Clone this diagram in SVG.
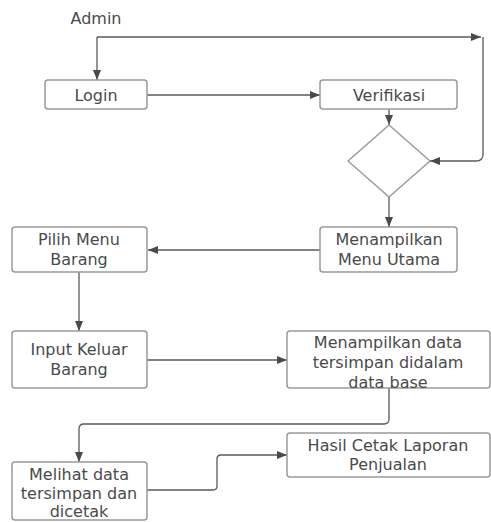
<svg xmlns="http://www.w3.org/2000/svg" width="491" height="522" viewBox="0 0 491 522">
<defs>
<style>
.box{fill:#fff;stroke:#9a9a9a;stroke-width:1.5}
.t{font-family:"DejaVu Sans",sans-serif;font-size:16px;fill:#4a4a4a;text-anchor:middle;dominant-baseline:central}
.c{fill:none;stroke:#5a5a5a;stroke-width:1.3}
</style>
<marker id="a" viewBox="0 0 10 8" refX="10" refY="4" markerWidth="10" markerHeight="8" markerUnits="userSpaceOnUse" orient="auto">
<path d="M0,0 L10,4 L0,8 Z" fill="#4a4a4a"/>
</marker>
</defs>
<rect width="491" height="522" fill="#fff"/>
<g id="connectors">
<path class="c" d="M97,37 V80" marker-end="url(#a)"/>
<path class="c" d="M97,37 H481" marker-end="url(#a)"/>
<path class="c" d="M483,37 V154 Q483,161 476,161 H430" marker-end="url(#a)"/>
<path class="c" d="M147,95 H320" marker-end="url(#a)"/>
<path class="c" d="M389,109 V125" marker-end="url(#a)"/>
<path class="c" d="M389,197 V227" marker-end="url(#a)"/>
<path class="c" d="M320,250 H148" marker-end="url(#a)"/>
<path class="c" d="M79,272 V331" marker-end="url(#a)"/>
<path class="c" d="M147,360 H287" marker-end="url(#a)"/>
<path class="c" d="M389,388 V419 Q389,424 384,424 H84 Q79,424 79,429 V462" marker-end="url(#a)"/>
<path class="c" d="M147,490 H213 Q217,490 217,486 V459 Q217,455 221,455 H287" marker-end="url(#a)"/>
</g>
<g id="admin"><text class="t" x="96" y="18">Admin</text></g>
<g id="login"><rect class="box" x="45" y="80" width="102" height="29" rx="3"/><text class="t" x="96" y="95">Login</text></g>
<g id="verifikasi"><rect class="box" x="320" y="80" width="137" height="29" rx="3"/><text class="t" x="389" y="95">Verifikasi</text></g>
<g id="decision"><path class="box" d="M389,125 L430,161 L389,197 L348,161 Z" stroke-linejoin="round"/></g>
<g id="menu-utama"><rect class="box" x="320" y="227" width="137" height="45" rx="3"/><text class="t" x="389" y="239">Menampilkan</text><text class="t" x="389" y="259">Menu Utama</text></g>
<g id="pilih-menu"><rect class="box" x="12" y="227" width="135" height="45" rx="3"/><text class="t" x="79" y="239">Pilih Menu</text><text class="t" x="79" y="259">Barang</text></g>
<g id="input-keluar"><rect class="box" x="12" y="331" width="135" height="57" rx="3"/><text class="t" x="79" y="349">Input Keluar</text><text class="t" x="79" y="369">Barang</text></g>
<g id="menampilkan-data"><rect class="box" x="287" y="331" width="203" height="57" rx="3"/><text class="t" x="388" y="342">Menampilkan data</text><text class="t" x="388" y="362">tersimpan didalam</text><text class="t" x="388" y="382">data base</text></g>
<g id="hasil-cetak"><rect class="box" x="287" y="433" width="203" height="44" rx="3"/><text class="t" x="388" y="445">Hasil Cetak Laporan</text><text class="t" x="388" y="464">Penjualan</text></g>
<g id="melihat-data"><rect class="box" x="12" y="462" width="135" height="58" rx="3"/><text class="t" x="79" y="474">Melihat data</text><text class="t" x="79" y="493">tersimpan dan</text><text class="t" x="79" y="511">dicetak</text></g>
</svg>
